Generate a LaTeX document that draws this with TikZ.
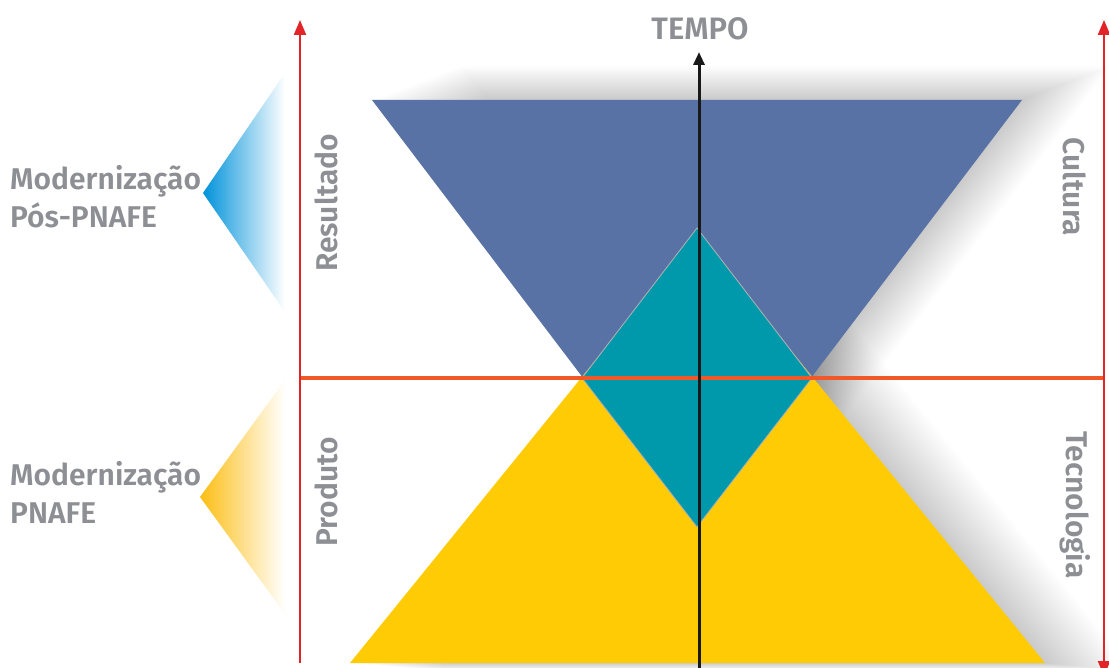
\documentclass[tikz,border=0pt]{standalone}
\usepackage{fontspec}
\setmainfont{Fira Sans}[BoldFont={Fira Sans SemiBold}]
\usetikzlibrary{arrows.meta}
\definecolor{triblue}{RGB}{89,114,166}
\definecolor{tealdia}{RGB}{0,153,172}
\definecolor{triyel}{RGB}{255,203,5}
\definecolor{axred}{RGB}{226,35,40}
\definecolor{horange}{RGB}{240,88,40}
\definecolor{lblgray}{RGB}{142,143,148}
\definecolor{gblue}{RGB}{0,146,218}
\definecolor{gyel}{RGB}{252,190,20}
\tikzset{
  redaxis/.style={draw=axred, line width=2.2pt},
  redtip/.style={-{Triangle[width=12pt,length=15pt]}},
  lbl/.style={text=lblgray, font=\bfseries\fontsize{30}{35}\selectfont, inner sep=0pt},
  sidelbl/.style={lbl, align=left, anchor=west},
  shadowlayer/.style={fill=black, opacity=0.009},
}
\begin{document}
\begin{tikzpicture}[x=1pt,y=-1pt]
\useasboundingbox (0,0) rectangle (1109,668);
\fill[white] (0,0) rectangle (1109,668);

% soft shadows
\foreach \i in {1,...,26} {
  \begin{scope}[shift={(\i*3.4,-\i*1.3)}]
    \fill[shadowlayer] (372,100) -- (1022,100) -- (697,528) -- cycle;
  \end{scope}
  \begin{scope}[shift={(\i*3.4,\i*0.3)}]
    \fill[shadowlayer] (350,663) -- (1045,663) -- (697,235) -- cycle;
  \end{scope}
}

% main shapes
\fill[triblue] (372,100) -- (1022,100) -- (697,528) -- cycle;
\fill[triyel] (350,663) -- (1045,663) -- (697,235) -- cycle;
\filldraw[fill=tealdia, draw=gray!60, line width=0.8pt]
  (697,228) -- (582,378) -- (697,527) -- (812,378) -- cycle;

% left gradient triangles
\shade[left color=gblue, right color=white]
  (203,193) -- (285,73) -- (285,312) -- cycle;
\shade[left color=gyel, right color=white]
  (200,497) -- (285,380) -- (285,614) -- cycle;

% axes
\coordinate (Lbot) at (300,663);
\coordinate (Ltop) at (300,20);
\coordinate (Rbot) at (1104,676);
\coordinate (Rtop) at (1104,20);
\coordinate (Hl) at (300,378);
\coordinate (Hr) at (1104,378);
\coordinate (Tbot) at (699,670);
\coordinate (Ttop) at (699,52);

\draw[draw=horange, line width=3.4pt] (Hl) -- (Hr);
\draw[redaxis, redtip] (Lbot) -- (Ltop);
\draw[redaxis, {Triangle[width=12pt,length=15pt]}-{Triangle[width=12pt,length=15pt]}] (Rbot) -- (Rtop);
\draw[draw=black!90, line width=3pt, -{Triangle[width=11pt,length=13pt]}] (Tbot) -- (Ttop);

% labels
\node[lbl, font=\bfseries\fontsize{31}{35}\selectfont] (tempo) at (700,29) {TEMPO};
\node[sidelbl] (pos) at (10,197) {Modernização\\[3pt]Pós-PNAFE};
\node[sidelbl] (pnafe) at (10,492) {Modernização\\[3pt]PNAFE};
\node[lbl, rotate=90] (res) at (326,203) {Resultado};
\node[lbl, rotate=90] (prod) at (326,492) {Produto};
\node[lbl, rotate=-90] (cult) at (1075,187) {Cultura};
\node[lbl, rotate=-90] (tec) at (1075,505) {Tecnologia};
\end{tikzpicture}
\end{document}
